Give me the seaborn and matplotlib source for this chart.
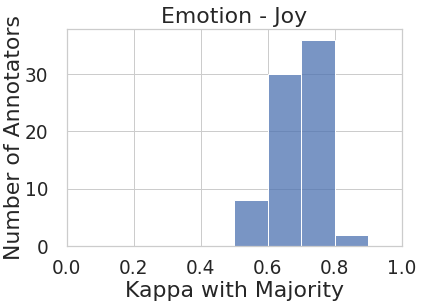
import matplotlib
matplotlib.use("Agg")
import matplotlib.pyplot as plt
import seaborn as sns
import numpy as np

bin_edges = [0.5, 0.6, 0.7, 0.8, 0.9]
bin_centers = [0.55, 0.65, 0.75, 0.85]
counts = [8, 30, 36, 2]

sns.set_theme(style="whitegrid")
plt.rcParams.update({
    "axes.titlesize": 22,
    "axes.labelsize": 22,
    "xtick.labelsize": 18.5,
    "ytick.labelsize": 18.5,
    "xtick.major.pad": 7,
    "ytick.major.pad": 12,
})

W, H = 423, 306
fig = plt.figure(figsize=(W/72, H/72), dpi=72)
ax = fig.add_axes([66.5/W, 1 - 246/H, (402 - 66.5)/W, (246 - 29.3)/H])
sns.histplot(x=bin_centers, weights=counts, bins=bin_edges, ax=ax)
ax.set_xlim(0, 1)
ax.set_title("Emotion - Joy", pad=6)
ax.set_xlabel("Kappa with Majority", labelpad=3)
ax.set_ylabel("Number of Annotators", labelpad=1)
fig.savefig("out.png", dpi=72)
